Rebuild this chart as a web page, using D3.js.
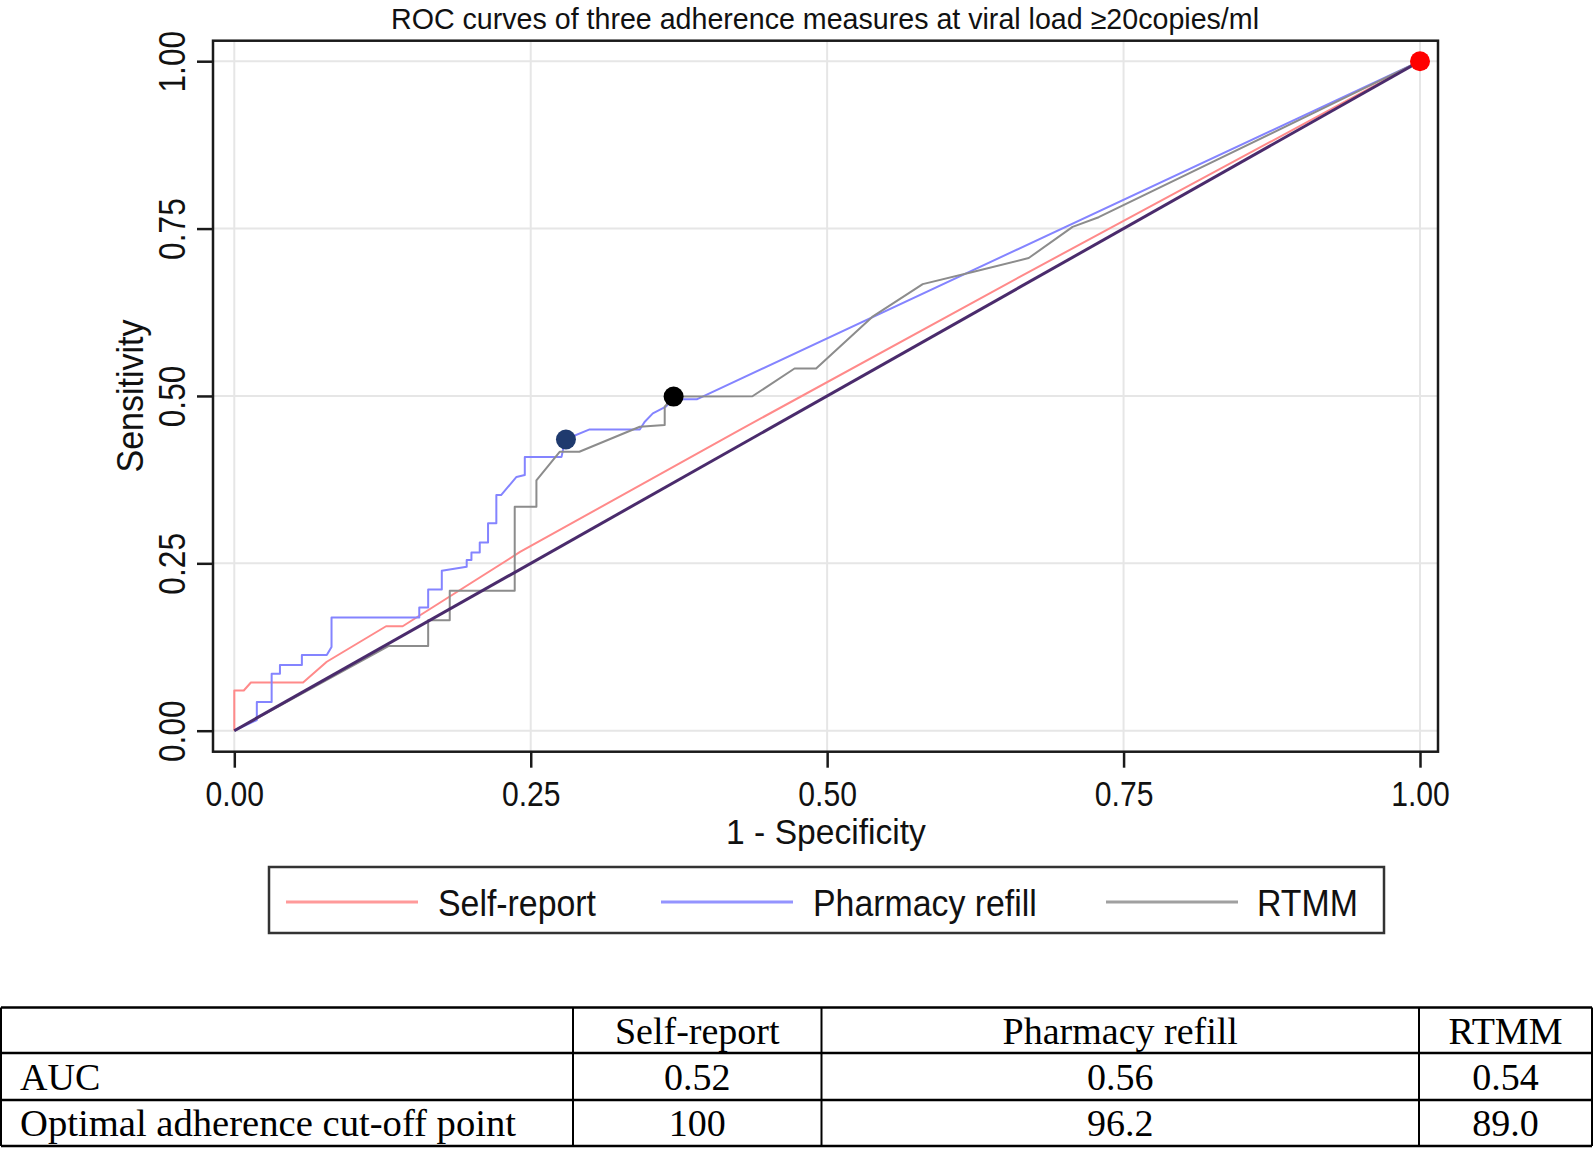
<!DOCTYPE html>
<html>
<head>
<meta charset="utf-8">
<script src="https://cdn.jsdelivr.net/npm/d3@7"></script>
<style>
  html, body { margin: 0; padding: 0; background: #fff; }
  svg { display: block; }
</style>
</head>
<body>
<svg id="chart" width="1594" height="1149"></svg>
<script>
// ---------------- DATA ----------------
const titleText = "ROC curves of three adherence measures at viral load \u226520copies/ml";
const xAxisTitle = "1 - Specificity";
const yAxisTitle = "Sensitivity";
const tickValues = [0, 0.25, 0.5, 0.75, 1];

const seriesNames = ["Self-report", "Pharmacy refill", "RTMM"];

const selfReportFpr  = [0, 0, 0.008, 0.014, 0.058, 0.078, 0.128, 0.142, 0.241, 0.426, 0.673, 1];
const selfReportSens = [0, 0.06, 0.06, 0.072, 0.072, 0.103, 0.156, 0.156, 0.267, 0.449, 0.688, 1];

const pharmacyFpr  = [0, 0.019, 0.019, 0.0315, 0.0315, 0.0385, 0.0385, 0.057, 0.057, 0.078, 0.082, 0.082,
  0.156, 0.156, 0.1635, 0.1635, 0.175, 0.175, 0.196, 0.196, 0.2, 0.2, 0.207, 0.207, 0.214, 0.214, 0.221, 0.221,
  0.225, 0.238, 0.245, 0.245, 0.276, 0.279, 0.2997, 0.342, 0.346, 0.353, 0.364, 0.37, 0.39, 1];
const pharmacySens = [0, 0.016, 0.043, 0.043, 0.085, 0.085, 0.098, 0.098, 0.113, 0.113, 0.125, 0.169,
  0.169, 0.184, 0.184, 0.211, 0.211, 0.239, 0.245, 0.255, 0.255, 0.266, 0.266, 0.281, 0.281, 0.31, 0.31, 0.352,
  0.352, 0.379, 0.382, 0.409, 0.409, 0.435, 0.45, 0.45, 0.461, 0.474, 0.484, 0.495, 0.495, 1];

const rtmmFpr  = [0, 0.13, 0.1635, 0.1635, 0.1817, 0.1817, 0.2365, 0.2365, 0.2548, 0.2548, 0.2744, 0.291,
  0.342, 0.363, 0.363, 0.3705, 0.437, 0.4725, 0.4907, 0.538, 0.5806, 0.6227, 0.67, 0.707, 0.729, 1];
const rtmmSens = [0, 0.1265, 0.1265, 0.165, 0.165, 0.209, 0.209, 0.3345, 0.3345, 0.374, 0.4166, 0.4166,
  0.454, 0.4565, 0.484, 0.499, 0.4995, 0.541, 0.541, 0.618, 0.667, 0.685, 0.706, 0.7526, 0.767, 1];

// optimal cut-off markers
const markerFpr  = [0.2797, 0.3705, 1];
const markerSens = [0.435, 0.499, 1];

// table
const tableHeader = ["", "Self-report", "Pharmacy refill", "RTMM"];
const tableAUC = ["AUC", "0.52", "0.56", "0.54"];
const tableCutoff = ["Optimal adherence cut-off point", "100", "96.2", "89.0"];

// ---------------- DRAWING ----------------
const svg = d3.select("#chart");
const FONT = "'Liberation Sans', Arial, sans-serif";
const SERIF = "'Liberation Serif', 'Times New Roman', serif";

const frame = { left: 213, right: 1438, top: 40.7, bottom: 751.7 };
const x = d3.scaleLinear().domain([0, 1]).range([234.3, 1420]);
const y = d3.scaleLinear().domain([0, 1]).range([730.7, 61.2]);

function squeeze(sel, factor) {
  sel.each(function () {
    const w = this.getComputedTextLength();
    d3.select(this).attr("textLength", w * factor).attr("lengthAdjust", "spacingAndGlyphs");
  });
}

// gridlines
svg.append("g").selectAll("line.gx").data(tickValues).join("line")
  .attr("x1", d => x(d)).attr("x2", d => x(d))
  .attr("y1", frame.top).attr("y2", frame.bottom)
  .attr("stroke", "#e6e6e6").attr("stroke-width", 2);
svg.append("g").selectAll("line.gy").data(tickValues).join("line")
  .attr("x1", frame.left).attr("x2", frame.right)
  .attr("y1", d => y(d)).attr("y2", d => y(d))
  .attr("stroke", "#e6e6e6").attr("stroke-width", 2);

// curves
const line = d3.line().x(d => x(d[0])).y(d => y(d[1]));
const series = [
  { fpr: selfReportFpr, sens: selfReportSens, color: "#ff8a8a", w: 2 },
  { fpr: pharmacyFpr, sens: pharmacySens, color: "#8484ff", w: 2 },
  { fpr: rtmmFpr, sens: rtmmSens, color: "#8c8c8c", w: 2 }
];
series.forEach(s => {
  svg.append("path")
    .datum(s.fpr.map((f, i) => [f, s.sens[i]]))
    .attr("d", line)
    .attr("fill", "none")
    .attr("stroke", s.color)
    .attr("stroke-width", s.w)
    .attr("stroke-linejoin", "round");
});

// reference diagonal
svg.append("path")
  .datum([[0, 0], [1, 1]])
  .attr("d", line)
  .attr("fill", "none")
  .attr("stroke", "#4a2b6c")
  .attr("stroke-width", 3);

// markers
const markerColors = ["#1f3a6e", "#000000", "#ff0000"];
svg.append("g").selectAll("circle").data(markerFpr).join("circle")
  .attr("cx", d => x(d))
  .attr("cy", (d, i) => y(markerSens[i]))
  .attr("r", 10)
  .attr("fill", (d, i) => markerColors[i]);

// frame
svg.append("rect")
  .attr("x", frame.left).attr("y", frame.top)
  .attr("width", frame.right - frame.left).attr("height", frame.bottom - frame.top)
  .attr("fill", "none").attr("stroke", "#1a1a1a").attr("stroke-width", 2.5);

// axes
const fmt = d3.format(".2f");
const yAxis = svg.append("g")
  .attr("transform", `translate(${frame.left},0)`)
  .call(d3.axisLeft(y).tickValues(tickValues).tickSize(16).tickFormat(fmt));
yAxis.select(".domain").remove();
yAxis.selectAll(".tick line").attr("stroke", "#1a1a1a").attr("stroke-width", 2.5);
yAxis.selectAll(".tick text")
  .attr("font-family", FONT).attr("font-size", 36).attr("fill", "#111")
  .attr("text-anchor", "middle")
  .attr("x", 0).attr("y", -28).attr("dy", 0)
  .attr("transform", "rotate(-90)")
  .call(squeeze, 0.88);

const xAxis = svg.append("g")
  .attr("transform", `translate(0,${frame.bottom})`)
  .call(d3.axisBottom(x).tickValues(tickValues).tickSize(16).tickFormat(fmt));
xAxis.select(".domain").remove();
xAxis.selectAll(".tick line").attr("stroke", "#1a1a1a").attr("stroke-width", 2.5);
xAxis.selectAll(".tick text")
  .attr("font-family", FONT).attr("font-size", 35).attr("fill", "#111")
  .attr("y", 54).attr("dy", 0)
  .call(squeeze, 0.86);

// axis titles
svg.append("text")
  .attr("x", 826).attr("y", 844)
  .attr("text-anchor", "middle")
  .attr("font-family", FONT).attr("font-size", 35).attr("fill", "#111")
  .text(xAxisTitle).call(squeeze, 0.96);

svg.append("text")
  .attr("transform", "translate(143,396) rotate(-90)")
  .attr("text-anchor", "middle")
  .attr("font-family", FONT).attr("font-size", 36).attr("fill", "#111")
  .text(yAxisTitle).call(squeeze, 0.945);

// title
svg.append("text")
  .attr("x", 825).attr("y", 29)
  .attr("text-anchor", "middle")
  .attr("font-family", FONT).attr("font-size", 29).attr("fill", "#111")
  .attr("textLength", 868).attr("lengthAdjust", "spacingAndGlyphs")
  .text(titleText);

// legend
const legend = svg.append("g");
legend.append("rect")
  .attr("x", 269).attr("y", 867).attr("width", 1115).attr("height", 66)
  .attr("fill", "#fff").attr("stroke", "#333").attr("stroke-width", 2.5);
const legendLineX = [286, 661, 1106];
const legendTextX = [438, 813, 1257];
const legendColors = ["#ff9a9a", "#9494ff", "#a0a0a0"];
seriesNames.forEach((name, i) => {
  legend.append("line")
    .attr("x1", legendLineX[i]).attr("x2", legendLineX[i] + 132)
    .attr("y1", 902).attr("y2", 902)
    .attr("stroke", legendColors[i]).attr("stroke-width", 3);
  legend.append("text")
    .attr("x", legendTextX[i]).attr("y", 916)
    .attr("font-family", FONT).attr("font-size", 36).attr("fill", "#111")
    .text(name).call(squeeze, 0.94);
});

// table
const tbl = svg.append("g");
const colX = [1, 573, 821.5, 1419, 1592];
const rowY = [1007.5, 1053, 1100, 1146];
const rows = [tableHeader, tableAUC, tableCutoff];
const baselines = [1044, 1090, 1136];
rows.forEach((row, r) => {
  row.forEach((cell, c) => {
    if (!cell) return;
    const t = tbl.append("text")
      .attr("x", c === 0 ? 20 : (colX[c] + colX[c + 1]) / 2)
      .attr("y", baselines[r])
      .attr("text-anchor", c === 0 ? "start" : "middle")
      .attr("font-family", SERIF).attr("font-size", 38).attr("fill", "#000")
      .text(cell);
    if (c === 0 && r === 2) t.attr("textLength", 496).attr("lengthAdjust", "spacingAndGlyphs");
  });
});
rowY.forEach(yy => {
  tbl.append("line").attr("x1", colX[0]).attr("x2", colX[4])
    .attr("y1", yy).attr("y2", yy)
    .attr("stroke", "#000").attr("stroke-width", 2.5);
});
colX.forEach(xx => {
  tbl.append("line").attr("x1", xx).attr("x2", xx)
    .attr("y1", rowY[0]).attr("y2", rowY[3])
    .attr("stroke", "#000").attr("stroke-width", 2);
});
</script>
</body>
</html>
